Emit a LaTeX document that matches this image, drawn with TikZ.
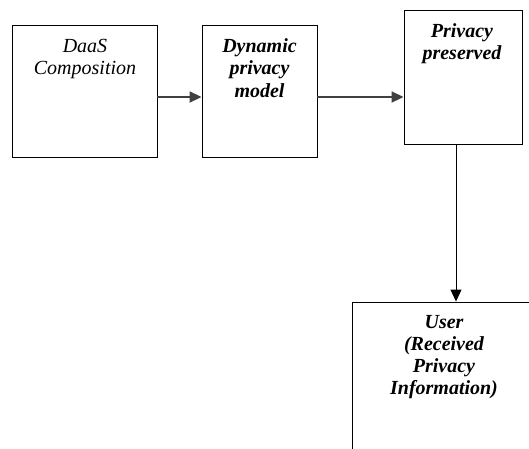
\documentclass[tikz,border=0pt]{standalone}
\usepackage{fontspec}
\setmainfont{Liberation Serif}
\usetikzlibrary{arrows.meta}

\begin{document}
\begin{tikzpicture}
  [x=1pt,y=-1pt,
   box/.style={draw,line width=0.9pt,inner sep=0pt},
   lbl/.style={anchor=north,align=center,inner sep=0pt,font=\fontsize{20}{22}\selectfont\itshape},
   flow/.style={-{Triangle[length=12pt,width=11pt]}}]
  \useasboundingbox (0,0) rectangle (529,448);
  \clip (0,0) rectangle (529,448);
  \node[box,minimum width=145pt,minimum height=132pt] (daas) at (84.5,91) {};
  \node[box,minimum width=115pt,minimum height=132pt] (dyn) at (259.5,91) {};
  \node[box,minimum width=118pt,minimum height=134pt] (pres) at (463,77) {};
  \node[box,minimum width=218pt,minimum height=188pt] (user) at (461,396) {};
  \node[lbl] (daast) at (85,39.5) {DaaS\\Composition};
  \node[lbl,font=\fontsize{20}{22.5}\selectfont\bfseries\itshape] (dynt) at (259.5,38) {Dynamic\\privacy\\model};
  \node[lbl,font=\fontsize{20}{22}\selectfont\bfseries\itshape] (prest) at (462,23) {Privacy\\preserved};
  \node[lbl,font=\fontsize{20}{22}\selectfont\bfseries\itshape] (usert) at (444,315) {User\\(Received\\Privacy\\Information)};
  % arrows
  \coordinate (mid) at (0,97);
  \foreach \from/\to in {daas/dyn,dyn/pres}
    \draw[flow,line width=1.8pt,black!75] (\from.east |- mid) -- (\to.west |- mid);
  \draw[flow,line width=1pt] ([xshift=-7pt]pres.south) -- ([xshift=-7pt]pres.south |- user.north);
\end{tikzpicture}
\end{document}
